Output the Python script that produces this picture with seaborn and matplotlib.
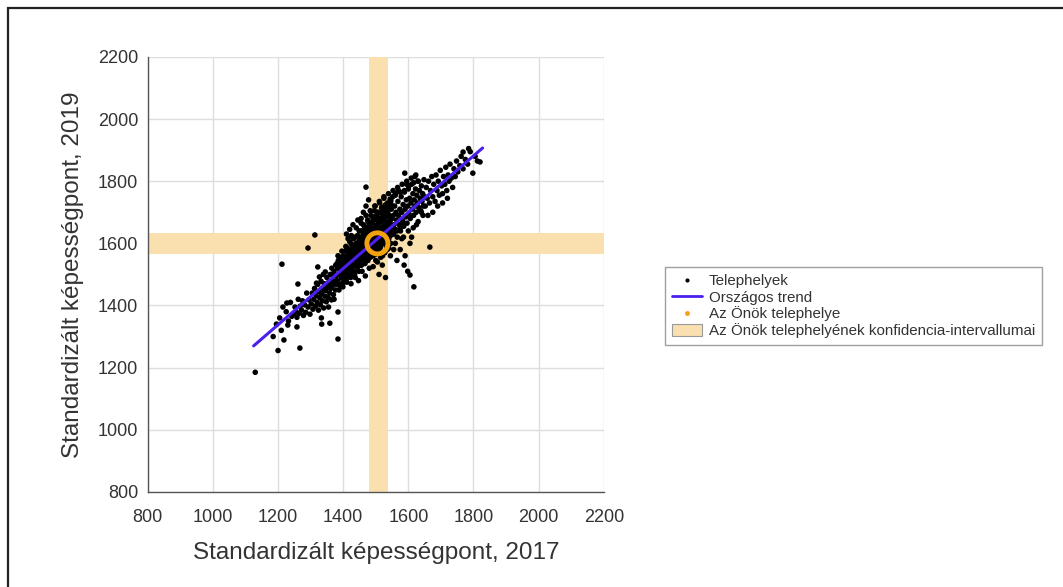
import numpy as np
import pandas as pd
import seaborn as sns
import matplotlib
matplotlib.use("Agg")
import matplotlib.pyplot as plt
from matplotlib.lines import Line2D
from matplotlib.patches import Patch, Rectangle
from matplotlib.ticker import MultipleLocator

# ---------------- data ----------------
x_tail = [1130, 1200, 1218, 1267, 1384, 1212, 1313, 1292, 1227, 1261, 1230, 1258, 1334, 1359, 1384, 1322,
          1185, 1195, 1205, 1210, 1215, 1225, 1232, 1238, 1242, 1248, 1252, 1255, 1258, 1262, 1265, 1268,
          1272, 1275, 1278, 1282, 1285, 1288, 1292, 1295, 1298]
y_tail = [1185, 1255, 1289, 1263, 1292, 1533, 1627, 1585, 1408, 1469, 1337, 1331, 1340, 1343, 1379, 1524,
          1300, 1340, 1360, 1320, 1395, 1380, 1350, 1410, 1365, 1372, 1395, 1380, 1362, 1420, 1375, 1398,
          1385, 1415, 1368, 1402, 1378, 1440, 1395, 1418, 1372]

x_b = [1302, 1305, 1307, 1310, 1312, 1315, 1317, 1320, 1322, 1324, 1326, 1328, 1330, 1332, 1334, 1336,
       1338, 1340, 1342, 1344, 1346, 1348, 1350, 1352, 1354, 1356, 1358, 1360, 1362, 1364, 1366, 1368,
       1370, 1372, 1374, 1376, 1378, 1380, 1345, 1355, 1365, 1372, 1318, 1333, 1349, 1361, 1369, 1377,
       1327, 1339]
y_b = [1405, 1440, 1388, 1420, 1455, 1398, 1432, 1410, 1468, 1385, 1445, 1425, 1402, 1478, 1438, 1415,
       1455, 1392, 1470, 1430, 1448, 1412, 1490, 1462, 1425, 1475, 1440, 1500, 1455, 1418, 1482, 1465,
       1435, 1510, 1478, 1450, 1495, 1468, 1508, 1395, 1520, 1420, 1472, 1360, 1455, 1470, 1498, 1530,
       1492, 1500]

x_c = [1382, 1383, 1385, 1386, 1388, 1389, 1391, 1392, 1394, 1395, 1397, 1398, 1400, 1401, 1403, 1404,
       1406, 1407, 1409, 1410, 1412, 1413, 1415, 1416, 1418, 1419, 1421, 1422, 1424, 1425, 1427, 1428,
       1430, 1431, 1433, 1434, 1436, 1437, 1439, 1440, 1442, 1443, 1445, 1446, 1448, 1449, 1450, 1384,
       1396, 1408, 1420, 1432, 1444, 1387, 1399, 1411, 1423, 1435, 1447, 1393, 1405, 1417, 1429, 1441,
       1390, 1402, 1414, 1426, 1438, 1446, 1381, 1413, 1425, 1437, 1449, 1392, 1404, 1416, 1428, 1440,
       1410, 1420, 1430, 1440, 1455, 1445, 1415, 1425]
y_c = [1480, 1520, 1545, 1500, 1465, 1530, 1510, 1555, 1488, 1525, 1540, 1470, 1515, 1560, 1498, 1535,
       1520, 1575, 1485, 1545, 1505, 1530, 1560, 1495, 1550, 1515, 1580, 1535, 1470, 1565, 1520, 1545,
       1590, 1505, 1555, 1530, 1575, 1490, 1548, 1600, 1525, 1565, 1540, 1585, 1510, 1560, 1610, 1560,
       1575, 1590, 1605, 1615, 1625, 1450, 1460, 1475, 1490, 1500, 1480, 1535, 1550, 1570, 1580, 1590,
       1500, 1525, 1540, 1555, 1565, 1600, 1535, 1585, 1598, 1620, 1640, 1520, 1505, 1520, 1530, 1545,
       1630, 1645, 1660, 1650, 1665, 1675, 1615, 1625]

x_d = [1451, 1452, 1453, 1454, 1455, 1456, 1457, 1458, 1459, 1460, 1461, 1462, 1463, 1464, 1465, 1466,
       1467, 1468, 1469, 1470, 1471, 1472, 1473, 1474, 1475, 1476, 1477, 1478, 1479, 1480, 1481, 1482,
       1483, 1484, 1485, 1486, 1487, 1488, 1489, 1490, 1491, 1492, 1493, 1494, 1495, 1496, 1497, 1498,
       1499, 1500, 1501, 1502, 1503, 1504, 1505, 1506, 1507, 1508, 1509, 1510, 1511, 1512, 1513, 1514,
       1515, 1516, 1517, 1518, 1519, 1520, 1521, 1522, 1523, 1524, 1525, 1526, 1527, 1528, 1529, 1530,
       1531, 1532, 1533, 1534, 1535, 1536, 1537, 1538, 1539, 1540, 1541, 1542, 1543, 1544, 1545, 1546,
       1547, 1548, 1549, 1550, 1455, 1462, 1470, 1478, 1458, 1468, 1480, 1492, 1505, 1515, 1528, 1540,
       1498, 1512, 1525, 1485, 1475, 1495, 1535, 1545, 1520, 1510, 1530, 1500, 1465, 1488, 1503, 1518,
       1532, 1546]
y_d = [1580, 1545, 1600, 1565, 1620, 1530, 1590, 1560, 1640, 1575, 1605, 1548, 1585, 1625, 1570, 1600,
       1535, 1615, 1580, 1650, 1595, 1560, 1630, 1585, 1610, 1545, 1640, 1598, 1570, 1660, 1620, 1588,
       1555, 1635, 1605, 1575, 1650, 1615, 1590, 1670, 1628, 1560, 1600, 1645, 1580, 1620, 1685, 1595,
       1640, 1565, 1610, 1655, 1590, 1630, 1700, 1600, 1645, 1575, 1620, 1665, 1605, 1640, 1585, 1680,
       1625, 1650, 1598, 1670, 1615, 1640, 1560, 1690, 1630, 1655, 1600, 1675, 1620, 1645, 1705, 1610,
       1660, 1635, 1590, 1685, 1650, 1625, 1700, 1640, 1668, 1615, 1690, 1650, 1720, 1635, 1675, 1600,
       1660, 1710, 1645, 1680, 1680, 1700, 1720, 1740, 1510, 1495, 1520, 1525, 1540, 1555, 1570, 1585,
       1720, 1730, 1745, 1690, 1675, 1705, 1580, 1560, 1530, 1500, 1490, 1545, 1655, 1665, 1675, 1700,
       1715, 1735]

x_e = [1552, 1554, 1556, 1558, 1560, 1562, 1564, 1566, 1568, 1570, 1572, 1574, 1576, 1578, 1580, 1582,
       1584, 1586, 1588, 1590, 1592, 1594, 1596, 1598, 1600, 1602, 1604, 1606, 1608, 1610, 1612, 1614,
       1616, 1618, 1620, 1622, 1624, 1626, 1628, 1630, 1632, 1634, 1636, 1638, 1640, 1642, 1644, 1646,
       1648, 1650, 1560, 1575, 1585, 1600, 1615, 1630, 1645, 1565, 1590, 1605, 1570, 1595, 1620, 1580,
       1625, 1555, 1610, 1640, 1587, 1598, 1617, 1605, 1666, 1589]
y_e = [1630, 1690, 1660, 1720, 1645, 1700, 1675, 1620, 1735, 1690, 1660, 1710, 1640, 1750, 1700, 1672,
       1725, 1655, 1765, 1710, 1685, 1740, 1665, 1720, 1775, 1695, 1745, 1680, 1730, 1790, 1710, 1760,
       1690, 1740, 1720, 1775, 1700, 1755, 1730, 1800, 1715, 1770, 1745, 1705, 1785, 1735, 1760, 1720,
       1805, 1750, 1600, 1580, 1620, 1640, 1650, 1670, 1690, 1545, 1560, 1600, 1770, 1790, 1815, 1615,
       1660, 1580, 1620, 1700, 1530, 1510, 1460, 1498, 1588, 1826]

x_f = [1652, 1655, 1658, 1662, 1665, 1668, 1672, 1675, 1678, 1682, 1685, 1688, 1692, 1695, 1698, 1702,
       1705, 1708, 1712, 1715, 1718, 1722, 1725, 1728, 1732, 1736, 1740, 1744, 1748, 1752, 1660, 1690,
       1720, 1675, 1705, 1758, 1762, 1768, 1775, 1782, 1790, 1798, 1805, 1812, 1820, 1768, 1785, 1470]
y_f = [1720, 1780, 1745, 1800, 1730, 1770, 1815, 1750, 1790, 1735, 1820, 1770, 1800, 1755, 1835, 1785,
       1760, 1815, 1790, 1845, 1770, 1820, 1800, 1855, 1810, 1780, 1840, 1815, 1865, 1830, 1690, 1720,
       1745, 1700, 1730, 1850, 1880, 1840, 1870, 1855, 1895, 1826, 1880, 1865, 1862, 1894, 1905, 1781]

x_g = [1455, 1462, 1470, 1476, 1483, 1490, 1497, 1504, 1511, 1518, 1525, 1532, 1539, 1546, 1553, 1560,
       1567, 1574, 1581, 1588, 1595, 1602, 1609, 1616, 1623, 1630]
y_g = [1640, 1660, 1690, 1670, 1705, 1685, 1720, 1700, 1735, 1715, 1750, 1725, 1760, 1740, 1770, 1755,
       1780, 1765, 1790, 1770, 1800, 1785, 1810, 1795, 1820, 1800]

x_h = [1395, 1405, 1415, 1425, 1435, 1445, 1455, 1465, 1475, 1485, 1495, 1505, 1515, 1525, 1535, 1545,
       1555, 1565, 1575, 1585]
y_h = [1470, 1480, 1495, 1500, 1510, 1525, 1530, 1545, 1550, 1560, 1575, 1580, 1590, 1600, 1610, 1625,
       1630, 1640, 1650, 1660]

x_k = [1440, 1448, 1456, 1464, 1472, 1480, 1488, 1496, 1504, 1512, 1520, 1528, 1536, 1544, 1552, 1560,
       1445, 1453, 1461, 1469, 1477, 1485, 1493, 1501, 1509, 1517, 1525, 1533, 1541, 1549]
y_k = [1590, 1605, 1620, 1632, 1645, 1655, 1668, 1680, 1690, 1700, 1712, 1722, 1730, 1742, 1750, 1760,
       1570, 1583, 1598, 1610, 1622, 1633, 1646, 1658, 1668, 1680, 1690, 1700, 1712, 1722]

x_sites = x_tail + x_b + x_c + x_d + x_e + x_f + x_g + x_h + x_k
y_sites = y_tail + y_b + y_c + y_d + y_e + y_f + y_g + y_h + y_k

trend_x = [1125, 1828]
trend_y = [1270, 1907]

own_x, own_y = 1505, 1600
ci_x = (1478, 1537)
ci_y = (1567, 1633)

x_ticks = [800, 1000, 1200, 1400, 1600, 1800, 2000, 2200]
y_ticks = [800, 1000, 1200, 1400, 1600, 1800, 2000, 2200]

x_label = "Standardizált képességpont, 2017"
y_label = "Standardizált képességpont, 2019"
legend_labels = ["Telephelyek", "Országos trend", "Az Önök telephelye",
                 "Az Önök telephelyének konfidencia-intervallumai"]

# ---------------- plot ----------------
sns.set_style("white")
plt.rcParams['font.family'] = ['Liberation Sans', 'DejaVu Sans']

band_color = "#F9E0AE"
line_color = "#4B1FF0"
orange = "#F2A20C"
tick_color = "#333333"

fig = plt.figure(figsize=(10.63, 5.87), dpi=100)
ax = fig.add_axes([0.139, 0.162, 0.429, 0.741])

ax.axvspan(ci_x[0], ci_x[1], color=band_color, lw=0, zorder=1)
ax.axhspan(ci_y[0], ci_y[1], color=band_color, lw=0, zorder=1)

df = pd.DataFrame({"x": x_sites, "y": y_sites})
sns.scatterplot(data=df, x="x", y="y", ax=ax, s=16, color="black", edgecolor="none",
                zorder=3, legend=False)
sns.lineplot(x=trend_x, y=trend_y, ax=ax, color=line_color, lw=2.2, zorder=4)
ax.scatter([own_x], [own_y], s=230, facecolors="none", edgecolors=orange, linewidths=3.5, zorder=5)

ax.set_xlim(800, 2200)
ax.set_ylim(800, 2200)
ax.set_xticks(x_ticks)
ax.set_yticks(y_ticks)
ax.xaxis.set_minor_locator(MultipleLocator(20))
ax.yaxis.set_minor_locator(MultipleLocator(20))
ax.grid(True, which="major", color="#DDDDDD", lw=1, zorder=0)
ax.set_axisbelow(True)
for s in ["top", "right"]:
    ax.spines[s].set_visible(False)
for s in ["left", "bottom"]:
    ax.spines[s].set_color("#555555")
    ax.spines[s].set_linewidth(1.0)
ax.tick_params(axis="both", which="major", direction="out", length=4, width=0.9,
               color="#555555", labelsize=13, labelcolor=tick_color, pad=3)
ax.tick_params(axis="both", which="minor", direction="out", length=2, width=0.7, color="#777777")
ax.tick_params(axis="x", pad=8)

ax.set_xlabel(x_label, fontsize=17.5, color=tick_color, labelpad=12)
ax.set_ylabel(y_label, fontsize=17.5, color=tick_color, labelpad=10)

handles = [
    Line2D([0], [0], marker="o", color="none", markerfacecolor="black", markeredgecolor="none", markersize=3),
    Line2D([0], [0], color=line_color, lw=2),
    Line2D([0], [0], marker="o", color="none", markerfacecolor=orange, markeredgecolor="none", markersize=3.5),
    Patch(facecolor=band_color, edgecolor="#999999", lw=0.8),
]
leg = fig.legend(handles, legend_labels, loc="upper left", bbox_to_anchor=(665 / 1063, 1 - 267 / 587),
                 fontsize=10.9, frameon=True, fancybox=False, handlelength=2.0, handleheight=0.9,
                 labelspacing=0.12, borderpad=0.45, handletextpad=0.45, borderaxespad=0)
leg.get_frame().set_edgecolor("#888888")
leg.get_frame().set_linewidth(1.0)
for t in leg.get_texts():
    t.set_color("#333333")

# outer frame of the original screenshot
fig.patches.append(Rectangle((8 / 1063, -0.1), 1.2, 1 - 8 / 587 + 0.1, transform=fig.transFigure,
                             fill=False, edgecolor="#222222", lw=1.6))

fig.savefig("out.png", dpi=100)
